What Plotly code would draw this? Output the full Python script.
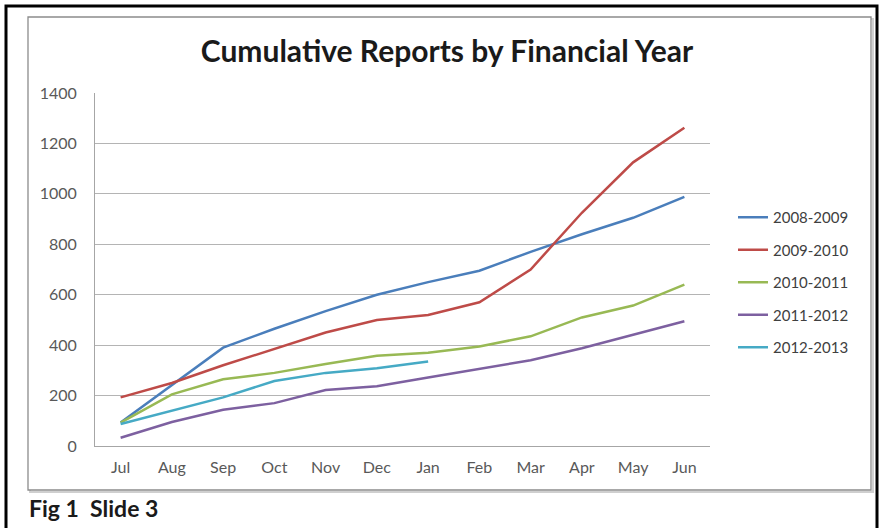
import plotly.graph_objects as go

months = ["Jul", "Aug", "Sep", "Oct", "Nov", "Dec", "Jan", "Feb", "Mar", "Apr", "May", "Jun"]
fy_2008_2009 = [93, 241, 390, 465, 535, 600, 650, 695, 770, 840, 905, 988]
fy_2009_2010 = [193, 250, 320, 385, 450, 500, 520, 570, 700, 925, 1125, 1262]
fy_2010_2011 = [93, 205, 265, 290, 325, 358, 370, 395, 435, 510, 557, 640]
fy_2011_2012 = [33, 95, 144, 170, 222, 237, 272, 305, 340, 388, 440, 495]
fy_2012_2013 = [87, 140, 193, 258, 290, 308, 335]

series_names = ["2008-2009", "2009-2010", "2010-2011", "2011-2012", "2012-2013"]
series_values = [fy_2008_2009, fy_2009_2010, fy_2010_2011, fy_2011_2012, fy_2012_2013]
colors = ["#4A7EBB", "#BE4B48", "#98B954", "#7D60A0", "#46AAC5"]
y_ticks = [0, 200, 400, 600, 800, 1000, 1200, 1400]

W, H = 880, 528
PL, PR, PT, PB = 95, 710, 93, 446


def px(x):
    return (x - PL) / (PR - PL)


def py(y):
    return (PB - y) / (PB - PT)


FONT = "Lato"

fig = go.Figure()
for i, (name, vals) in enumerate(zip(series_names, series_values)):
    fig.add_trace(go.Scatter(
        x=months[:len(vals)], y=vals, name=name, mode="lines",
        line=dict(color=colors[i], width=2.5),
        legendgroup=name,
    ))

shapes = [
    # shadow of inner chart frame
    dict(type="rect", xref="paper", yref="paper",
         x0=px(30), x1=px(873), y0=py(19), y1=py(492),
         line=dict(color="#cfcfcf", width=2), layer="below"),
    # inner chart frame
    dict(type="rect", xref="paper", yref="paper",
         x0=px(28), x1=px(871), y0=py(17), y1=py(490),
         line=dict(color="#8c8c8c", width=1.3), fillcolor="white", layer="below"),
    # outer black border
    dict(type="rect", xref="paper", yref="paper",
         x0=px(6), x1=px(877), y0=py(6), y1=py(560),
         line=dict(color="black", width=3)),
]

fig.update_layout(
    width=W, height=H,
    margin=dict(l=PL, r=W - PR, t=PT, b=H - PB, pad=0),
    paper_bgcolor="white", plot_bgcolor="white",
    font=dict(family=FONT, color="#595959"),
    title=dict(text="<b>Cumulative Reports by Financial Year</b>",
               x=447 / W, xanchor="center", y=1 - 51 / H, yanchor="middle",
               font=dict(family=FONT, size=30, color="#1a1a1a")),
    xaxis=dict(type="category", categoryorder="array", categoryarray=months,
               range=[-0.5, 11.5], showgrid=False, showline=True,
               linecolor="#a6a6a6", linewidth=1, ticks="",
               tickfont=dict(family=FONT, size=16, color="#595959"),
               ticklabelstandoff=7, zeroline=False, fixedrange=True),
    yaxis=dict(range=[0, 1400], tickvals=y_ticks, showgrid=True,
               gridcolor="#b4b4b4", gridwidth=1, showline=True,
               linecolor="#a6a6a6", linewidth=1, ticks="", zeroline=False,
               tickfont=dict(family=FONT, size=16, color="#595959"),
               ticklabelstandoff=14, fixedrange=True),
    legend=dict(x=px(733), y=py(201), xanchor="left", yanchor="top",
                font=dict(family=FONT, size=15, color="#404040"),
                tracegroupgap=10, bgcolor="rgba(0,0,0,0)", traceorder="grouped"),
    shapes=shapes,
    annotations=[dict(text="<b>Fig 1  Slide 3</b>", xref="paper", yref="paper",
                      x=px(27), y=py(508), xanchor="left", yanchor="middle",
                      showarrow=False,
                      font=dict(family=FONT, size=23, color="#1a1a1a"))],
)

fig.write_html("out.html",
               config={"displayModeBar": False},
               post_script="document.body.style.margin='0';")
